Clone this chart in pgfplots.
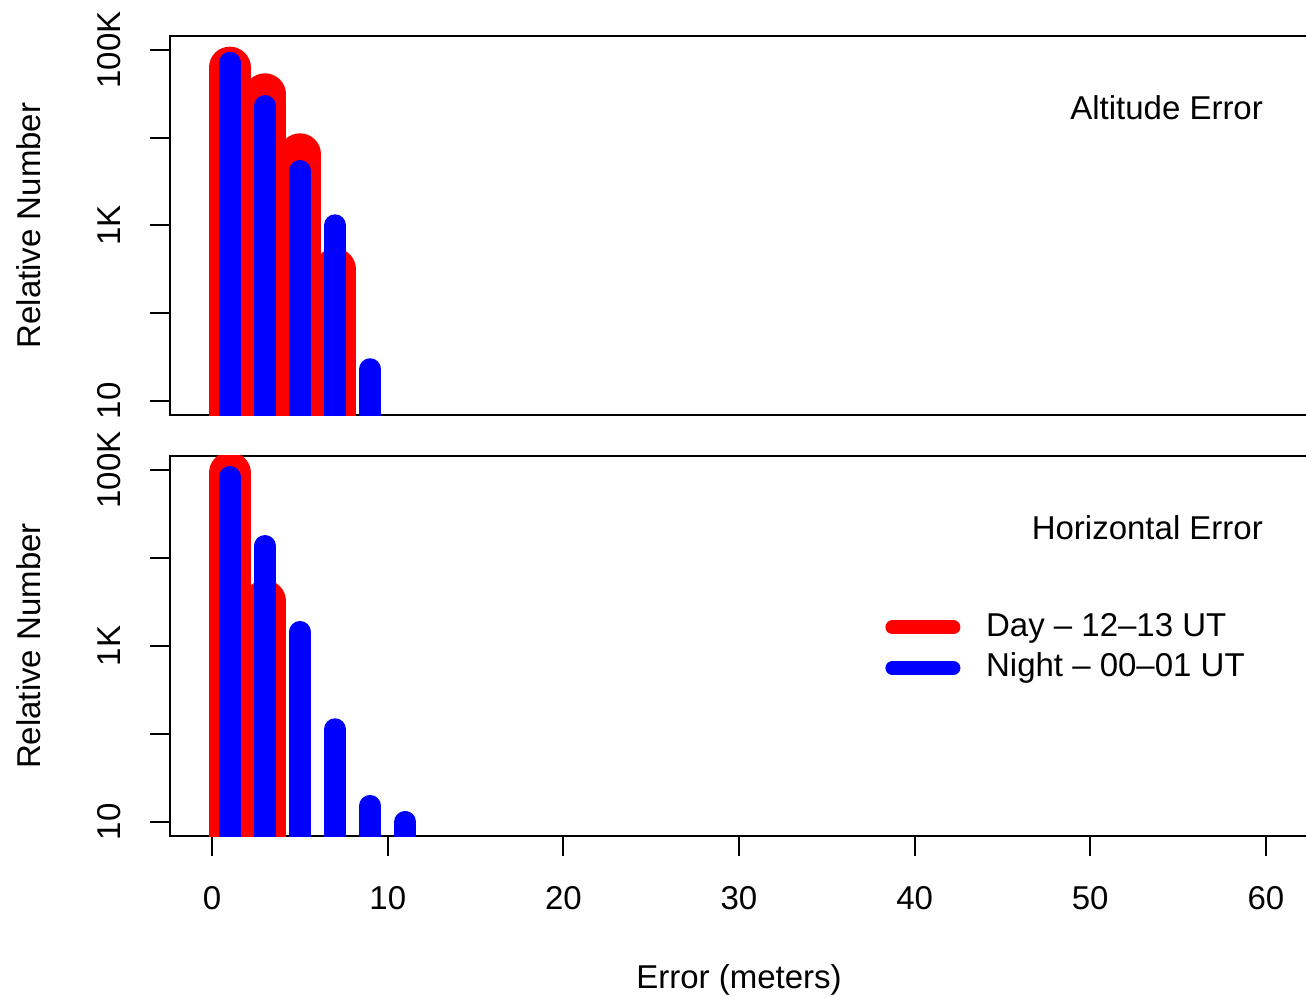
\documentclass[border=0pt]{standalone}
\usepackage{fontspec}
\setmainfont{Liberation Sans}
\usepackage{pgfplots}
\pgfplotsset{compat=1.18}
\begin{document}
\begin{tikzpicture}[font=\fontsize{16.5}{19.8}\selectfont]
\path[use as bounding box, clip] (0,0) rectangle (653pt,499pt);
% top panel
\begin{axis}[at={(85pt,291.5pt)}, anchor=south west, height=189.5pt,
    scale only axis, width=569pt,
    xmin=-2.4, xmax=62.4, ymode=log, ymin=6.9183, ymax=144544,
    ytick={10,100,1000,10000,100000}, yticklabels={10,,1K,,100K},
    yminorticks=false,
    xtick=\empty,
    tick align=outside, major tick length=10pt, tick pos=left,
    axis line style={line width=1.3pt},
    every tick/.style={black, line width=1pt},
    yticklabel style={xshift=-15pt, rotate=90, anchor=base, inner sep=0pt},
    every axis y label/.style={at={(axis description cs:-0.1134,0.5)}, rotate=90, anchor=base, inner sep=0pt},
    ylabel={Relative Number},
]
\addplot[ycomb, color=red, line width=21pt, line cap=round, forget plot] coordinates {(1,63000) (3,31300) (5,6480) (7,317)};
\addplot[ycomb, color=blue, line width=11pt, line cap=round, forget plot] coordinates {(1,71700) (3,23000) (5,4180) (7,1005) (9,23)};
\node[anchor=base east, inner sep=0pt] at (axis description cs:0.9607,0.780) {Altitude Error};
\end{axis}
% bottom panel
\begin{axis}[at={(85pt,81pt)}, anchor=south west, height=190pt,
    scale only axis, width=569pt,
    xmin=-2.4, xmax=62.4, ymode=log, ymin=6.9183, ymax=144544,
    ytick={10,100,1000,10000,100000}, yticklabels={10,,1K,,100K},
    yminorticks=false,
    tick align=outside, major tick length=10pt, tick pos=left,
    axis line style={line width=1.3pt},
    every tick/.style={black, line width=1pt},
    yticklabel style={xshift=-15pt, rotate=90, anchor=base, inner sep=0pt},
    every axis y label/.style={at={(axis description cs:-0.1134,0.5)}, rotate=90, anchor=base, inner sep=0pt},
    ylabel={Relative Number},
    xtick={0,10,20,30,40,50,60},
    xticklabel style={anchor=base, inner sep=0pt, yshift=-27pt},
    every axis x label/.style={at={(axis description cs:0.5,-0.4)}, anchor=base, inner sep=0pt},
    xlabel={Error (meters)},
    /pgf/number format/assume math mode=true,
    legend image code/.code={\draw[#1] (0pt,0.5pt) -- (30.5pt,0.5pt);},
    legend cell align=left,
    legend style={draw=none, fill=none, inner sep=0pt, at={(axis description cs:0.6283,0.5895)}, anchor=north west, row sep=4.25pt, column sep=12.85pt, nodes={inner sep=0pt, text height=12pt, text depth=4pt}},
]
\addplot[ycomb, color=red, line width=21pt, line cap=round, forget plot] coordinates {(1,92700) (3,3250)};
\addplot[ycomb, color=blue, line width=11pt, line cap=round, forget plot] coordinates {(1,83400) (3,13700) (5,1443) (7,113) (9,15.2) (11,10)};
\addlegendimage{color=red, line width=7pt, line cap=round}
\addlegendentry{Day – 12–13 UT}
\addlegendimage{color=blue, line width=7pt, line cap=round}
\addlegendentry{Night – 00–01 UT}
\node[anchor=base east, inner sep=0pt] at (axis description cs:0.9607,0.781) {Horizontal Error};
\end{axis}
\end{tikzpicture}
\end{document}
